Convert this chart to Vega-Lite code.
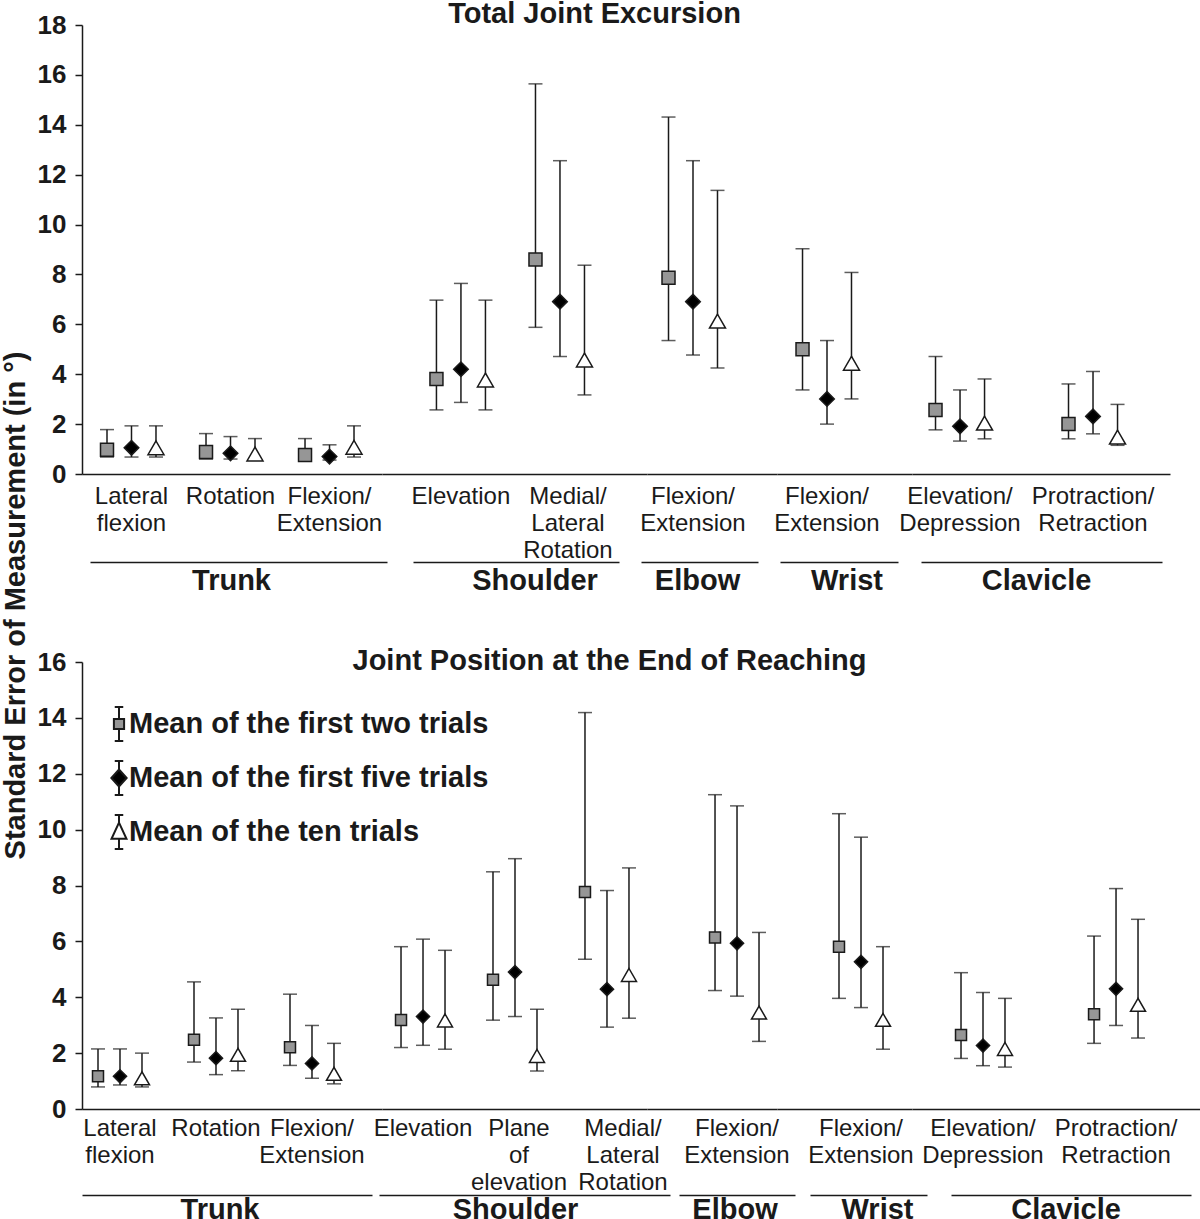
{
"$schema": "https://vega.github.io/schema/vega-lite/v6.json",
"padding": 0,
"background": "white",
"data": {"name": "sem"},
"datasets": {"sem": [
{"p":"top","g":"Trunk","c":"Lateral flexion","t":"Mean of the first two trials","m":0.97,"lo":0.68,"hi":1.78},
{"p":"top","g":"Trunk","c":"Lateral flexion","t":"Mean of the first five trials","m":1.05,"lo":0.68,"hi":1.93},
{"p":"top","g":"Trunk","c":"Lateral flexion","t":"Mean of the ten trials","m":1.05,"lo":0.68,"hi":1.93},
{"p":"top","g":"Trunk","c":"Rotation","t":"Mean of the first two trials","m":0.88,"lo":0.6,"hi":1.62},
{"p":"top","g":"Trunk","c":"Rotation","t":"Mean of the first five trials","m":0.83,"lo":0.6,"hi":1.5},
{"p":"top","g":"Trunk","c":"Rotation","t":"Mean of the ten trials","m":0.8,"lo":0.57,"hi":1.42},
{"p":"top","g":"Trunk","c":"Flexion/Extension","t":"Mean of the first two trials","m":0.76,"lo":0.56,"hi":1.42},
{"p":"top","g":"Trunk","c":"Flexion/Extension","t":"Mean of the first five trials","m":0.7,"lo":0.56,"hi":1.17},
{"p":"top","g":"Trunk","c":"Flexion/Extension","t":"Mean of the ten trials","m":1.07,"lo":0.68,"hi":1.93},
{"p":"top","g":"Shoulder","c":"Elevation","t":"Mean of the first two trials","m":3.81,"lo":2.57,"hi":6.97},
{"p":"top","g":"Shoulder","c":"Elevation","t":"Mean of the first five trials","m":4.2,"lo":2.87,"hi":7.64},
{"p":"top","g":"Shoulder","c":"Elevation","t":"Mean of the ten trials","m":3.77,"lo":2.57,"hi":6.97},
{"p":"top","g":"Shoulder","c":"Medial/Lateral Rotation","t":"Mean of the first two trials","m":8.6,"lo":5.88,"hi":15.64},
{"p":"top","g":"Shoulder","c":"Medial/Lateral Rotation","t":"Mean of the first five trials","m":6.91,"lo":4.71,"hi":12.56},
{"p":"top","g":"Shoulder","c":"Medial/Lateral Rotation","t":"Mean of the ten trials","m":4.57,"lo":3.17,"hi":8.37},
{"p":"top","g":"Elbow","c":"Flexion/Extension","t":"Mean of the first two trials","m":7.87,"lo":5.35,"hi":14.31},
{"p":"top","g":"Elbow","c":"Flexion/Extension","t":"Mean of the first five trials","m":6.91,"lo":4.77,"hi":12.56},
{"p":"top","g":"Elbow","c":"Flexion/Extension","t":"Mean of the ten trials","m":6.13,"lo":4.25,"hi":11.37},
{"p":"top","g":"Wrist","c":"Flexion/Extension","t":"Mean of the first two trials","m":5.0,"lo":3.37,"hi":9.03},
{"p":"top","g":"Wrist","c":"Flexion/Extension","t":"Mean of the first five trials","m":3.01,"lo":2.0,"hi":5.35},
{"p":"top","g":"Wrist","c":"Flexion/Extension","t":"Mean of the ten trials","m":4.44,"lo":3.01,"hi":8.08},
{"p":"top","g":"Clavicle","c":"Elevation/Depression","t":"Mean of the first two trials","m":2.57,"lo":1.77,"hi":4.71},
{"p":"top","g":"Clavicle","c":"Elevation/Depression","t":"Mean of the first five trials","m":1.91,"lo":1.32,"hi":3.37},
{"p":"top","g":"Clavicle","c":"Elevation/Depression","t":"Mean of the ten trials","m":2.04,"lo":1.41,"hi":3.81},
{"p":"top","g":"Clavicle","c":"Protraction/Retraction","t":"Mean of the first two trials","m":2.0,"lo":1.41,"hi":3.61},
{"p":"top","g":"Clavicle","c":"Protraction/Retraction","t":"Mean of the first five trials","m":2.31,"lo":1.61,"hi":4.11},
{"p":"top","g":"Clavicle","c":"Protraction/Retraction","t":"Mean of the ten trials","m":1.48,"lo":1.15,"hi":2.79},
{"p":"bottom","g":"Trunk","c":"Lateral flexion","t":"Mean of the first two trials","m":1.17,"lo":0.79,"hi":2.15},
{"p":"bottom","g":"Trunk","c":"Lateral flexion","t":"Mean of the first five trials","m":1.17,"lo":0.86,"hi":2.15},
{"p":"bottom","g":"Trunk","c":"Lateral flexion","t":"Mean of the ten trials","m":1.1,"lo":0.79,"hi":2.0},
{"p":"bottom","g":"Trunk","c":"Rotation","t":"Mean of the first two trials","m":2.48,"lo":1.68,"hi":4.55},
{"p":"bottom","g":"Trunk","c":"Rotation","t":"Mean of the first five trials","m":1.82,"lo":1.23,"hi":3.26},
{"p":"bottom","g":"Trunk","c":"Rotation","t":"Mean of the ten trials","m":1.94,"lo":1.37,"hi":3.57},
{"p":"bottom","g":"Trunk","c":"Flexion/Extension","t":"Mean of the first two trials","m":2.21,"lo":1.56,"hi":4.11},
{"p":"bottom","g":"Trunk","c":"Flexion/Extension","t":"Mean of the first five trials","m":1.63,"lo":1.1,"hi":2.99},
{"p":"bottom","g":"Trunk","c":"Flexion/Extension","t":"Mean of the ten trials","m":1.26,"lo":0.9,"hi":2.35},
{"p":"bottom","g":"Shoulder","c":"Elevation","t":"Mean of the first two trials","m":3.19,"lo":2.2,"hi":5.81},
{"p":"bottom","g":"Shoulder","c":"Elevation","t":"Mean of the first five trials","m":3.31,"lo":2.28,"hi":6.08},
{"p":"bottom","g":"Shoulder","c":"Elevation","t":"Mean of the ten trials","m":3.17,"lo":2.14,"hi":5.68},
{"p":"bottom","g":"Shoulder","c":"Plane of elevation","t":"Mean of the first two trials","m":4.63,"lo":3.18,"hi":8.49},
{"p":"bottom","g":"Shoulder","c":"Plane of elevation","t":"Mean of the first five trials","m":4.9,"lo":3.31,"hi":8.96},
{"p":"bottom","g":"Shoulder","c":"Plane of elevation","t":"Mean of the ten trials","m":1.9,"lo":1.36,"hi":3.57},
{"p":"bottom","g":"Shoulder","c":"Medial/Lateral Rotation","t":"Mean of the first two trials","m":7.77,"lo":5.36,"hi":14.19},
{"p":"bottom","g":"Shoulder","c":"Medial/Lateral Rotation","t":"Mean of the first five trials","m":4.29,"lo":2.93,"hi":7.82},
{"p":"bottom","g":"Shoulder","c":"Medial/Lateral Rotation","t":"Mean of the ten trials","m":4.8,"lo":3.25,"hi":8.63},
{"p":"bottom","g":"Elbow","c":"Flexion/Extension","t":"Mean of the first two trials","m":6.14,"lo":4.24,"hi":11.25},
{"p":"bottom","g":"Elbow","c":"Flexion/Extension","t":"Mean of the first five trials","m":5.93,"lo":4.04,"hi":10.85},
{"p":"bottom","g":"Elbow","c":"Flexion/Extension","t":"Mean of the ten trials","m":3.45,"lo":2.42,"hi":6.32},
{"p":"bottom","g":"Wrist","c":"Flexion/Extension","t":"Mean of the first two trials","m":5.81,"lo":3.96,"hi":10.57},
{"p":"bottom","g":"Wrist","c":"Flexion/Extension","t":"Mean of the first five trials","m":5.27,"lo":3.63,"hi":9.73},
{"p":"bottom","g":"Wrist","c":"Flexion/Extension","t":"Mean of the ten trials","m":3.19,"lo":2.14,"hi":5.81},
{"p":"bottom","g":"Clavicle","c":"Elevation/Depression","t":"Mean of the first two trials","m":2.65,"lo":1.81,"hi":4.88},
{"p":"bottom","g":"Clavicle","c":"Elevation/Depression","t":"Mean of the first five trials","m":2.27,"lo":1.55,"hi":4.17},
{"p":"bottom","g":"Clavicle","c":"Elevation/Depression","t":"Mean of the ten trials","m":2.15,"lo":1.5,"hi":3.96},
{"p":"bottom","g":"Clavicle","c":"Protraction/Retraction","t":"Mean of the first two trials","m":3.39,"lo":2.35,"hi":6.19},
{"p":"bottom","g":"Clavicle","c":"Protraction/Retraction","t":"Mean of the first five trials","m":4.3,"lo":2.99,"hi":7.89},
{"p":"bottom","g":"Clavicle","c":"Protraction/Retraction","t":"Mean of the ten trials","m":3.73,"lo":2.54,"hi":6.79}
]},
"columns": 5,
"bounds": "flush",
"align": "each",
"spacing": {"row": 188, "column": 0},
"resolve": {"scale": {"xOffset": "independent", "shape": "independent", "fill": "independent", "size": "independent"}, "legend": {"shape": "independent", "fill": "independent", "size": "independent"}},
"concat": [
  {"width": 300, "height": 449,
   "transform": [{"filter": "datum.p === 'top' && datum.g === 'Trunk'"}],
   "layer": [
    {"encoding": {
      "x": {"field": "c", "type": "nominal", "sort": null, "title": null, "scale": {"paddingInner": 0.192, "paddingOuter": 0.111, "align": 0.432}, "axis": {"orient": "bottom", "labelExpr": "split(replace(datum.value,'/','/ '),' ')"}},
      "xOffset": {"field": "t", "type": "nominal", "sort": ["Mean of the first two trials","Mean of the first five trials","Mean of the ten trials"], "scale": {"paddingInner": 0, "paddingOuter": 0.133}}},
     "layer": [
      {"mark": {"type": "rule", "color": "#1a1a1a", "strokeWidth": 1.5}, "encoding": {"y": {"field": "lo", "type": "quantitative", "scale": {"domain": [0, 18], "nice": false}, "axis": {"values": [0,2,4,6,8,10,12,14,16,18], "title": null}}, "y2": {"field": "hi"}}},
      {"mark": {"type": "tick", "color": "#1a1a1a", "thickness": 1.5, "size": 14}, "encoding": {"y": {"field": "lo", "type": "quantitative", "scale": {"domain": [0, 18], "nice": false}, "axis": {"values": [0,2,4,6,8,10,12,14,16,18], "title": null}}}},
      {"mark": {"type": "tick", "color": "#1a1a1a", "thickness": 1.5, "size": 14}, "encoding": {"y": {"field": "hi", "type": "quantitative", "scale": {"domain": [0, 18], "nice": false}, "axis": {"values": [0,2,4,6,8,10,12,14,16,18], "title": null}}}},
      {"mark": {"type": "point", "filled": true, "stroke": "#1a1a1a", "strokeWidth": 1.5, "opacity": 1}, "encoding": {"y": {"field": "m", "type": "quantitative", "scale": {"domain": [0, 18], "nice": false}, "axis": {"values": [0,2,4,6,8,10,12,14,16,18], "title": null}},
        "shape": {"field": "t", "type": "nominal", "scale": {"domain": ["Mean of the first two trials","Mean of the first five trials","Mean of the ten trials"], "range": ["square","diamond","triangle-up"]}, "legend": null},
        "fill": {"field": "t", "type": "nominal", "scale": {"domain": ["Mean of the first two trials","Mean of the first five trials","Mean of the ten trials"], "range": ["#969696","#000000","#ffffff"]}, "legend": null},
        "size": {"field": "t", "type": "ordinal", "scale": {"domain": ["Mean of the first two trials","Mean of the first five trials","Mean of the ten trials"], "range": [169,256,210]}, "legend": null}}}
     ]},
    {"mark": {"type": "point", "opacity": 0}, "encoding": {"x": {"field": "g", "type": "nominal", "title": null, "scale": {"type": "band", "range": [8, 305], "paddingInner": 0, "paddingOuter": 0}, "axis": {"orient": "bottom", "offset": 88, "labelFontSize": 29, "labelFontWeight": "bold", "labelPadding": 4, "labelOffset": -7}}}}
   ],
   "resolve": {"scale": {"x": "independent"}}
  },
  {"width": 265, "height": 449,
   "title": {"text": "Total Joint Excursion", "anchor": "middle", "frame": "group", "offset": -27, "baseline": "alphabetic", "dx": 80},
   "transform": [{"filter": "datum.p === 'top' && datum.g === 'Shoulder'"}],
   "layer": [
    {"encoding": {
      "x": {"field": "c", "type": "nominal", "sort": null, "title": null, "scale": {"paddingInner": 0.192, "paddingOuter": 0.434, "align": 0.453}, "axis": {"orient": "bottom", "labelExpr": "split(replace(datum.value,'/','/ '),' ')", "labelOffset": {"condition": {"test": "datum.value === 'Medial/Lateral Rotation'", "value": 8}, "value": 0}}},
      "xOffset": {"field": "t", "type": "nominal", "sort": ["Mean of the first two trials","Mean of the first five trials","Mean of the ten trials"], "scale": {"paddingInner": 0, "paddingOuter": 0.133}}},
     "layer": [
      {"mark": {"type": "rule", "color": "#1a1a1a", "strokeWidth": 1.5}, "encoding": {"y": {"field": "lo", "type": "quantitative", "scale": {"domain": [0, 18], "nice": false}, "axis": null}, "y2": {"field": "hi"}}},
      {"mark": {"type": "tick", "color": "#1a1a1a", "thickness": 1.5, "size": 14}, "encoding": {"y": {"field": "lo", "type": "quantitative", "scale": {"domain": [0, 18], "nice": false}, "axis": null}}},
      {"mark": {"type": "tick", "color": "#1a1a1a", "thickness": 1.5, "size": 14}, "encoding": {"y": {"field": "hi", "type": "quantitative", "scale": {"domain": [0, 18], "nice": false}, "axis": null}}},
      {"mark": {"type": "point", "filled": true, "stroke": "#1a1a1a", "strokeWidth": 1.5, "opacity": 1}, "encoding": {"y": {"field": "m", "type": "quantitative", "scale": {"domain": [0, 18], "nice": false}, "axis": null},
        "shape": {"field": "t", "type": "nominal", "scale": {"domain": ["Mean of the first two trials","Mean of the first five trials","Mean of the ten trials"], "range": ["square","diamond","triangle-up"]}, "legend": null},
        "fill": {"field": "t", "type": "nominal", "scale": {"domain": ["Mean of the first two trials","Mean of the first five trials","Mean of the ten trials"], "range": ["#969696","#000000","#ffffff"]}, "legend": null},
        "size": {"field": "t", "type": "ordinal", "scale": {"domain": ["Mean of the first two trials","Mean of the first five trials","Mean of the ten trials"], "range": [169,256,210]}, "legend": null}}}
     ]},
    {"mark": {"type": "point", "opacity": 0}, "encoding": {"x": {"field": "g", "type": "nominal", "title": null, "scale": {"type": "band", "range": [31, 237], "paddingInner": 0, "paddingOuter": 0}, "axis": {"orient": "bottom", "offset": 88, "labelFontSize": 29, "labelFontWeight": "bold", "labelPadding": 4, "labelOffset": 19}}}}
   ],
   "resolve": {"scale": {"x": "independent"}}
  },
  {"width": 130, "height": 449,
   "transform": [{"filter": "datum.p === 'top' && datum.g === 'Elbow'"}],
   "layer": [
    {"encoding": {
      "x": {"field": "c", "type": "nominal", "sort": null, "title": null, "scale": {"paddingInner": 0, "paddingOuter": 0.3125, "align": 0.12}, "axis": {"orient": "bottom", "labelExpr": "split(replace(datum.value,'/','/ '),' ')"}},
      "xOffset": {"field": "t", "type": "nominal", "sort": ["Mean of the first two trials","Mean of the first five trials","Mean of the ten trials"], "scale": {"paddingInner": 0, "paddingOuter": 0.133}}},
     "layer": [
      {"mark": {"type": "rule", "color": "#1a1a1a", "strokeWidth": 1.5}, "encoding": {"y": {"field": "lo", "type": "quantitative", "scale": {"domain": [0, 18], "nice": false}, "axis": null}, "y2": {"field": "hi"}}},
      {"mark": {"type": "tick", "color": "#1a1a1a", "thickness": 1.5, "size": 14}, "encoding": {"y": {"field": "lo", "type": "quantitative", "scale": {"domain": [0, 18], "nice": false}, "axis": null}}},
      {"mark": {"type": "tick", "color": "#1a1a1a", "thickness": 1.5, "size": 14}, "encoding": {"y": {"field": "hi", "type": "quantitative", "scale": {"domain": [0, 18], "nice": false}, "axis": null}}},
      {"mark": {"type": "point", "filled": true, "stroke": "#1a1a1a", "strokeWidth": 1.5, "opacity": 1}, "encoding": {"y": {"field": "m", "type": "quantitative", "scale": {"domain": [0, 18], "nice": false}, "axis": null},
        "shape": {"field": "t", "type": "nominal", "scale": {"domain": ["Mean of the first two trials","Mean of the first five trials","Mean of the ten trials"], "range": ["square","diamond","triangle-up"]}, "legend": null},
        "fill": {"field": "t", "type": "nominal", "scale": {"domain": ["Mean of the first two trials","Mean of the first five trials","Mean of the ten trials"], "range": ["#969696","#000000","#ffffff"]}, "legend": null},
        "size": {"field": "t", "type": "ordinal", "scale": {"domain": ["Mean of the first two trials","Mean of the first five trials","Mean of the ten trials"], "range": [169,256,210]}, "legend": null}}}
     ]},
    {"mark": {"type": "point", "opacity": 0}, "encoding": {"x": {"field": "g", "type": "nominal", "title": null, "scale": {"type": "band", "range": [-6, 111], "paddingInner": 0, "paddingOuter": 0}, "axis": {"orient": "bottom", "offset": 88, "labelFontSize": 29, "labelFontWeight": "bold", "labelPadding": 4, "labelOffset": -2}}}}
   ],
   "resolve": {"scale": {"x": "independent"}}
  },
  {"width": 135, "height": 449,
   "transform": [{"filter": "datum.p === 'top' && datum.g === 'Wrist'"}],
   "layer": [
    {"encoding": {
      "x": {"field": "c", "type": "nominal", "sort": null, "title": null, "scale": {"paddingInner": 0, "paddingOuter": 0.344, "align": 0.182}, "axis": {"orient": "bottom", "labelExpr": "split(replace(datum.value,'/','/ '),' ')"}},
      "xOffset": {"field": "t", "type": "nominal", "sort": ["Mean of the first two trials","Mean of the first five trials","Mean of the ten trials"], "scale": {"paddingInner": 0, "paddingOuter": 0.133}}},
     "layer": [
      {"mark": {"type": "rule", "color": "#1a1a1a", "strokeWidth": 1.5}, "encoding": {"y": {"field": "lo", "type": "quantitative", "scale": {"domain": [0, 18], "nice": false}, "axis": null}, "y2": {"field": "hi"}}},
      {"mark": {"type": "tick", "color": "#1a1a1a", "thickness": 1.5, "size": 14}, "encoding": {"y": {"field": "lo", "type": "quantitative", "scale": {"domain": [0, 18], "nice": false}, "axis": null}}},
      {"mark": {"type": "tick", "color": "#1a1a1a", "thickness": 1.5, "size": 14}, "encoding": {"y": {"field": "hi", "type": "quantitative", "scale": {"domain": [0, 18], "nice": false}, "axis": null}}},
      {"mark": {"type": "point", "filled": true, "stroke": "#1a1a1a", "strokeWidth": 1.5, "opacity": 1}, "encoding": {"y": {"field": "m", "type": "quantitative", "scale": {"domain": [0, 18], "nice": false}, "axis": null},
        "shape": {"field": "t", "type": "nominal", "scale": {"domain": ["Mean of the first two trials","Mean of the first five trials","Mean of the ten trials"], "range": ["square","diamond","triangle-up"]}, "legend": null},
        "fill": {"field": "t", "type": "nominal", "scale": {"domain": ["Mean of the first two trials","Mean of the first five trials","Mean of the ten trials"], "range": ["#969696","#000000","#ffffff"]}, "legend": null},
        "size": {"field": "t", "type": "ordinal", "scale": {"domain": ["Mean of the first two trials","Mean of the first five trials","Mean of the ten trials"], "range": [169,256,210]}, "legend": null}}}
     ]},
    {"mark": {"type": "point", "opacity": 0}, "encoding": {"x": {"field": "g", "type": "nominal", "title": null, "scale": {"type": "band", "range": [3, 121], "paddingInner": 0, "paddingOuter": 0}, "axis": {"orient": "bottom", "offset": 88, "labelFontSize": 29, "labelFontWeight": "bold", "labelPadding": 4, "labelOffset": 8}}}}
   ],
   "resolve": {"scale": {"x": "independent"}}
  },
  {"width": 290, "height": 449,
   "transform": [{"filter": "datum.p === 'top' && datum.g === 'Clavicle'"}],
   "layer": [
    {"encoding": {
      "x": {"field": "c", "type": "nominal", "sort": null, "title": null, "scale": {"range": [0, 258], "paddingInner": 0.398, "paddingOuter": 0.169, "align": 0.178}, "axis": {"orient": "bottom", "labelExpr": "split(replace(datum.value,'/','/ '),' ')"}},
      "xOffset": {"field": "t", "type": "nominal", "sort": ["Mean of the first two trials","Mean of the first five trials","Mean of the ten trials"], "scale": {"paddingInner": 0, "paddingOuter": 0.133}}},
     "layer": [
      {"mark": {"type": "rule", "color": "#1a1a1a", "strokeWidth": 1.5}, "encoding": {"y": {"field": "lo", "type": "quantitative", "scale": {"domain": [0, 18], "nice": false}, "axis": null}, "y2": {"field": "hi"}}},
      {"mark": {"type": "tick", "color": "#1a1a1a", "thickness": 1.5, "size": 14}, "encoding": {"y": {"field": "lo", "type": "quantitative", "scale": {"domain": [0, 18], "nice": false}, "axis": null}}},
      {"mark": {"type": "tick", "color": "#1a1a1a", "thickness": 1.5, "size": 14}, "encoding": {"y": {"field": "hi", "type": "quantitative", "scale": {"domain": [0, 18], "nice": false}, "axis": null}}},
      {"mark": {"type": "point", "filled": true, "stroke": "#1a1a1a", "strokeWidth": 1.5, "opacity": 1}, "encoding": {"y": {"field": "m", "type": "quantitative", "scale": {"domain": [0, 18], "nice": false}, "axis": null},
        "shape": {"field": "t", "type": "nominal", "scale": {"domain": ["Mean of the first two trials","Mean of the first five trials","Mean of the ten trials"], "range": ["square","diamond","triangle-up"]}, "legend": null},
        "fill": {"field": "t", "type": "nominal", "scale": {"domain": ["Mean of the first two trials","Mean of the first five trials","Mean of the ten trials"], "range": ["#969696","#000000","#ffffff"]}, "legend": null},
        "size": {"field": "t", "type": "ordinal", "scale": {"domain": ["Mean of the first two trials","Mean of the first five trials","Mean of the ten trials"], "range": [169,256,210]}, "legend": null}}}
     ]},
    {"mark": {"type": "point", "opacity": 0}, "encoding": {"x": {"field": "g", "type": "nominal", "title": null, "scale": {"type": "band", "range": [9, 250], "paddingInner": 0, "paddingOuter": 0}, "axis": {"orient": "bottom", "offset": 88, "labelFontSize": 29, "labelFontWeight": "bold", "labelPadding": 4, "labelOffset": -5}}}}
   ],
   "resolve": {"scale": {"x": "independent"}}
  },
  {"width": 300, "height": 447,
   "transform": [{"filter": "datum.p === 'bottom' && datum.g === 'Trunk'"}],
   "layer": [
    {"encoding": {
      "x": {"field": "c", "type": "nominal", "sort": null, "title": null, "scale": {"paddingInner": 0.271, "paddingOuter": 0.198, "align": 0.079}, "axis": {"orient": "bottom", "labelPadding": 7, "labelExpr": "split(replace(datum.value,'/','/ '),' ')"}},
      "xOffset": {"field": "t", "type": "nominal", "sort": ["Mean of the first two trials","Mean of the first five trials","Mean of the ten trials"], "scale": {"paddingInner": 0, "paddingOuter": 0.091}}},
     "layer": [
      {"mark": {"type": "rule", "color": "#1a1a1a", "strokeWidth": 1.5}, "encoding": {"y": {"field": "lo", "type": "quantitative", "scale": {"domain": [0, 16], "nice": false}, "axis": {"values": [0,2,4,6,8,10,12,14,16], "title": "Standard Error of Measurement (in °)", "titleFontSize": 29, "titleFontWeight": "bold", "titleX": -52, "titleY": -57, "titleAngle": 270, "titleBaseline": "bottom", "titleAlign": "center"}}, "y2": {"field": "hi"}}},
      {"mark": {"type": "tick", "color": "#1a1a1a", "thickness": 1.5, "size": 14}, "encoding": {"y": {"field": "lo", "type": "quantitative", "scale": {"domain": [0, 16], "nice": false}, "axis": {"values": [0,2,4,6,8,10,12,14,16], "title": "Standard Error of Measurement (in °)", "titleFontSize": 29, "titleFontWeight": "bold", "titleX": -52, "titleY": -57, "titleAngle": 270, "titleBaseline": "bottom", "titleAlign": "center"}}}},
      {"mark": {"type": "tick", "color": "#1a1a1a", "thickness": 1.5, "size": 14}, "encoding": {"y": {"field": "hi", "type": "quantitative", "scale": {"domain": [0, 16], "nice": false}, "axis": {"values": [0,2,4,6,8,10,12,14,16], "title": "Standard Error of Measurement (in °)", "titleFontSize": 29, "titleFontWeight": "bold", "titleX": -52, "titleY": -57, "titleAngle": 270, "titleBaseline": "bottom", "titleAlign": "center"}}}},
      {"mark": {"type": "point", "filled": true, "stroke": "#1a1a1a", "strokeWidth": 1.5, "opacity": 1}, "encoding": {"y": {"field": "m", "type": "quantitative", "scale": {"domain": [0, 16], "nice": false}, "axis": {"values": [0,2,4,6,8,10,12,14,16], "title": "Standard Error of Measurement (in °)", "titleFontSize": 29, "titleFontWeight": "bold", "titleX": -52, "titleY": -57, "titleAngle": 270, "titleBaseline": "bottom", "titleAlign": "center"}},
        "shape": {"field": "t", "type": "nominal", "scale": {"domain": ["Mean of the first two trials","Mean of the first five trials","Mean of the ten trials"], "range": ["square","diamond","triangle-up"]}, "legend": null},
        "fill": {"field": "t", "type": "nominal", "scale": {"domain": ["Mean of the first two trials","Mean of the first five trials","Mean of the ten trials"], "range": ["#969696","#000000","#ffffff"]}, "legend": null},
        "size": {"field": "t", "type": "ordinal", "scale": {"domain": ["Mean of the first two trials","Mean of the first five trials","Mean of the ten trials"], "range": [121,225,196]}, "legend": null}}}
     ]},
    {"mark": {"type": "point", "opacity": 0}, "encoding": {"x": {"field": "g", "type": "nominal", "title": null, "scale": {"type": "band", "range": [0, 290], "paddingInner": 0, "paddingOuter": 0}, "axis": {"orient": "bottom", "offset": 86, "labelFontSize": 29, "labelFontWeight": "bold", "labelPadding": 0, "labelOffset": -7}}}},
    {"transform": [{"filter": "false"}],
     "mark": {"type": "point", "filled": true, "stroke": "#1a1a1a", "strokeWidth": 2, "opacity": 1},
     "encoding": {
      "shape": {"field": "t", "type": "nominal", "scale": {"domain": ["Mean of the first two trials","Mean of the first five trials","Mean of the ten trials"], "range": ["M-0.25,-1L0.25,-1M0,-1L0,-0.3M-0.3,-0.3L0.3,-0.3L0.3,0.3L-0.3,0.3ZM0,0.3L0,1M-0.25,1L0.25,1", "M-0.25,-1L0.25,-1M0,-1L0,-0.5M0,-0.5L0.45,0L0,0.5L-0.45,0ZM0,0.5L0,1M-0.25,1L0.25,1", "M-0.25,-1L0.25,-1M0,-1L0,-0.55M0,-0.55L0.44,0.4L-0.44,0.4ZM0,0.4L0,1M-0.25,1L0.25,1"]},
        "legend": {"title": null, "orient": "none", "legendX": 19, "legendY": 44, "symbolSize": 1156, "symbolStrokeColor": "#1a1a1a", "symbolStrokeWidth": 2, "symbolOpacity": 1, "labelFontSize": 29, "labelFontWeight": "bold", "labelColor": "#1a1a1a", "labelOffset": -8, "rowPadding": 12, "labelLimit": 0, "padding": 0,
          "encoding": {"symbols": {"stroke": {"value": "#1a1a1a"}, "strokeWidth": {"value": 2}}}}},
      "fill": {"field": "t", "type": "nominal", "scale": {"domain": ["Mean of the first two trials","Mean of the first five trials","Mean of the ten trials"], "range": ["#969696","#000000","#ffffff"]},
        "legend": {"title": null, "orient": "none", "legendX": 19, "legendY": 44, "symbolSize": 1156, "symbolStrokeColor": "#1a1a1a", "symbolStrokeWidth": 2, "symbolOpacity": 1, "labelFontSize": 29, "labelFontWeight": "bold", "labelColor": "#1a1a1a", "labelOffset": -8, "rowPadding": 12, "labelLimit": 0, "padding": 0,
          "encoding": {"symbols": {"stroke": {"value": "#1a1a1a"}, "strokeWidth": {"value": 2}}}}}
     }}
   ],
   "resolve": {"scale": {"x": "independent", "shape": "independent", "fill": "independent"}}
  },
  {"width": 265, "height": 447,
   "title": {"text": "Joint Position at the End of Reaching", "anchor": "middle", "frame": "group", "offset": -37, "baseline": "alphabetic", "dx": 95},
   "transform": [{"filter": "datum.p === 'bottom' && datum.g === 'Shoulder'"}],
   "layer": [
    {"encoding": {
      "x": {"field": "c", "type": "nominal", "sort": null, "title": null, "scale": {"paddingInner": 0.239, "paddingOuter": 0.06, "align": 0.545}, "axis": {"orient": "bottom", "labelPadding": 7, "labelExpr": "split(replace(datum.value,'/','/ '),' ')", "labelOffset": {"condition": [{"test": "datum.value === 'Plane of elevation'", "value": 4}, {"test": "datum.value === 'Medial/Lateral Rotation'", "value": 16}], "value": 0}}},
      "xOffset": {"field": "t", "type": "nominal", "sort": ["Mean of the first two trials","Mean of the first five trials","Mean of the ten trials"], "scale": {"paddingInner": 0, "paddingOuter": 0.091}}},
     "layer": [
      {"mark": {"type": "rule", "color": "#1a1a1a", "strokeWidth": 1.5}, "encoding": {"y": {"field": "lo", "type": "quantitative", "scale": {"domain": [0, 16], "nice": false}, "axis": null}, "y2": {"field": "hi"}}},
      {"mark": {"type": "tick", "color": "#1a1a1a", "thickness": 1.5, "size": 14}, "encoding": {"y": {"field": "lo", "type": "quantitative", "scale": {"domain": [0, 16], "nice": false}, "axis": null}}},
      {"mark": {"type": "tick", "color": "#1a1a1a", "thickness": 1.5, "size": 14}, "encoding": {"y": {"field": "hi", "type": "quantitative", "scale": {"domain": [0, 16], "nice": false}, "axis": null}}},
      {"mark": {"type": "point", "filled": true, "stroke": "#1a1a1a", "strokeWidth": 1.5, "opacity": 1}, "encoding": {"y": {"field": "m", "type": "quantitative", "scale": {"domain": [0, 16], "nice": false}, "axis": null},
        "shape": {"field": "t", "type": "nominal", "scale": {"domain": ["Mean of the first two trials","Mean of the first five trials","Mean of the ten trials"], "range": ["square","diamond","triangle-up"]}, "legend": null},
        "fill": {"field": "t", "type": "nominal", "scale": {"domain": ["Mean of the first two trials","Mean of the first five trials","Mean of the ten trials"], "range": ["#969696","#000000","#ffffff"]}, "legend": null},
        "size": {"field": "t", "type": "ordinal", "scale": {"domain": ["Mean of the first two trials","Mean of the first five trials","Mean of the ten trials"], "range": [121,225,196]}, "legend": null}}}
     ]},
    {"mark": {"type": "point", "opacity": 0}, "encoding": {"x": {"field": "g", "type": "nominal", "title": null, "scale": {"type": "band", "range": [-3, 288], "paddingInner": 0, "paddingOuter": 0}, "axis": {"orient": "bottom", "offset": 86, "labelFontSize": 29, "labelFontWeight": "bold", "labelPadding": 0, "labelOffset": -9}}}}
   ],
   "resolve": {"scale": {"x": "independent"}}
  },
  {"width": 130, "height": 447,
   "transform": [{"filter": "datum.p === 'bottom' && datum.g === 'Elbow'"}],
   "layer": [
    {"encoding": {
      "x": {"field": "c", "type": "nominal", "sort": null, "title": null, "scale": {"paddingInner": 0, "paddingOuter": 0.4286, "align": 0.917}, "axis": {"orient": "bottom", "labelPadding": 7, "labelExpr": "split(replace(datum.value,'/','/ '),' ')"}},
      "xOffset": {"field": "t", "type": "nominal", "sort": ["Mean of the first two trials","Mean of the first five trials","Mean of the ten trials"], "scale": {"paddingInner": 0, "paddingOuter": 0.091}}},
     "layer": [
      {"mark": {"type": "rule", "color": "#1a1a1a", "strokeWidth": 1.5}, "encoding": {"y": {"field": "lo", "type": "quantitative", "scale": {"domain": [0, 16], "nice": false}, "axis": null}, "y2": {"field": "hi"}}},
      {"mark": {"type": "tick", "color": "#1a1a1a", "thickness": 1.5, "size": 14}, "encoding": {"y": {"field": "lo", "type": "quantitative", "scale": {"domain": [0, 16], "nice": false}, "axis": null}}},
      {"mark": {"type": "tick", "color": "#1a1a1a", "thickness": 1.5, "size": 14}, "encoding": {"y": {"field": "hi", "type": "quantitative", "scale": {"domain": [0, 16], "nice": false}, "axis": null}}},
      {"mark": {"type": "point", "filled": true, "stroke": "#1a1a1a", "strokeWidth": 1.5, "opacity": 1}, "encoding": {"y": {"field": "m", "type": "quantitative", "scale": {"domain": [0, 16], "nice": false}, "axis": null},
        "shape": {"field": "t", "type": "nominal", "scale": {"domain": ["Mean of the first two trials","Mean of the first five trials","Mean of the ten trials"], "range": ["square","diamond","triangle-up"]}, "legend": null},
        "fill": {"field": "t", "type": "nominal", "scale": {"domain": ["Mean of the first two trials","Mean of the first five trials","Mean of the ten trials"], "range": ["#969696","#000000","#ffffff"]}, "legend": null},
        "size": {"field": "t", "type": "ordinal", "scale": {"domain": ["Mean of the first two trials","Mean of the first five trials","Mean of the ten trials"], "range": [121,225,196]}, "legend": null}}}
     ]},
    {"mark": {"type": "point", "opacity": 0}, "encoding": {"x": {"field": "g", "type": "nominal", "title": null, "scale": {"type": "band", "range": [32, 148], "paddingInner": 0, "paddingOuter": 0}, "axis": {"orient": "bottom", "offset": 86, "labelFontSize": 29, "labelFontWeight": "bold", "labelPadding": 0, "labelOffset": -2}}}}
   ],
   "resolve": {"scale": {"x": "independent"}}
  },
  {"width": 135, "height": 447,
   "transform": [{"filter": "datum.p === 'bottom' && datum.g === 'Wrist'"}],
   "layer": [
    {"encoding": {
      "x": {"field": "c", "type": "nominal", "sort": null, "title": null, "scale": {"paddingInner": 0, "paddingOuter": 0.464, "align": 0.754}, "axis": {"orient": "bottom", "labelPadding": 7, "labelExpr": "split(replace(datum.value,'/','/ '),' ')"}},
      "xOffset": {"field": "t", "type": "nominal", "sort": ["Mean of the first two trials","Mean of the first five trials","Mean of the ten trials"], "scale": {"paddingInner": 0, "paddingOuter": 0.091}}},
     "layer": [
      {"mark": {"type": "rule", "color": "#1a1a1a", "strokeWidth": 1.5}, "encoding": {"y": {"field": "lo", "type": "quantitative", "scale": {"domain": [0, 16], "nice": false}, "axis": null}, "y2": {"field": "hi"}}},
      {"mark": {"type": "tick", "color": "#1a1a1a", "thickness": 1.5, "size": 14}, "encoding": {"y": {"field": "lo", "type": "quantitative", "scale": {"domain": [0, 16], "nice": false}, "axis": null}}},
      {"mark": {"type": "tick", "color": "#1a1a1a", "thickness": 1.5, "size": 14}, "encoding": {"y": {"field": "hi", "type": "quantitative", "scale": {"domain": [0, 16], "nice": false}, "axis": null}}},
      {"mark": {"type": "point", "filled": true, "stroke": "#1a1a1a", "strokeWidth": 1.5, "opacity": 1}, "encoding": {"y": {"field": "m", "type": "quantitative", "scale": {"domain": [0, 16], "nice": false}, "axis": null},
        "shape": {"field": "t", "type": "nominal", "scale": {"domain": ["Mean of the first two trials","Mean of the first five trials","Mean of the ten trials"], "range": ["square","diamond","triangle-up"]}, "legend": null},
        "fill": {"field": "t", "type": "nominal", "scale": {"domain": ["Mean of the first two trials","Mean of the first five trials","Mean of the ten trials"], "range": ["#969696","#000000","#ffffff"]}, "legend": null},
        "size": {"field": "t", "type": "ordinal", "scale": {"domain": ["Mean of the first two trials","Mean of the first five trials","Mean of the ten trials"], "range": [121,225,196]}, "legend": null}}}
     ]},
    {"mark": {"type": "point", "opacity": 0}, "encoding": {"x": {"field": "g", "type": "nominal", "title": null, "scale": {"type": "band", "range": [33, 150], "paddingInner": 0, "paddingOuter": 0}, "axis": {"orient": "bottom", "offset": 86, "labelFontSize": 29, "labelFontWeight": "bold", "labelPadding": 0, "labelOffset": 9}}}}
   ],
   "resolve": {"scale": {"x": "independent"}}
  },
  {"width": 290, "height": 447,
   "transform": [{"filter": "datum.p === 'bottom' && datum.g === 'Clavicle'"}],
   "layer": [
    {"encoding": {
      "x": {"field": "c", "type": "nominal", "sort": null, "title": null, "scale": {"paddingInner": 0.474, "paddingOuter": 0.327, "align": 0.414}, "axis": {"orient": "bottom", "labelPadding": 7, "labelExpr": "split(replace(datum.value,'/','/ '),' ')"}},
      "xOffset": {"field": "t", "type": "nominal", "sort": ["Mean of the first two trials","Mean of the first five trials","Mean of the ten trials"], "scale": {"paddingInner": 0, "paddingOuter": 0.091}}},
     "layer": [
      {"mark": {"type": "rule", "color": "#1a1a1a", "strokeWidth": 1.5}, "encoding": {"y": {"field": "lo", "type": "quantitative", "scale": {"domain": [0, 16], "nice": false}, "axis": null}, "y2": {"field": "hi"}}},
      {"mark": {"type": "tick", "color": "#1a1a1a", "thickness": 1.5, "size": 14}, "encoding": {"y": {"field": "lo", "type": "quantitative", "scale": {"domain": [0, 16], "nice": false}, "axis": null}}},
      {"mark": {"type": "tick", "color": "#1a1a1a", "thickness": 1.5, "size": 14}, "encoding": {"y": {"field": "hi", "type": "quantitative", "scale": {"domain": [0, 16], "nice": false}, "axis": null}}},
      {"mark": {"type": "point", "filled": true, "stroke": "#1a1a1a", "strokeWidth": 1.5, "opacity": 1}, "encoding": {"y": {"field": "m", "type": "quantitative", "scale": {"domain": [0, 16], "nice": false}, "axis": null},
        "shape": {"field": "t", "type": "nominal", "scale": {"domain": ["Mean of the first two trials","Mean of the first five trials","Mean of the ten trials"], "range": ["square","diamond","triangle-up"]}, "legend": null},
        "fill": {"field": "t", "type": "nominal", "scale": {"domain": ["Mean of the first two trials","Mean of the first five trials","Mean of the ten trials"], "range": ["#969696","#000000","#ffffff"]}, "legend": null},
        "size": {"field": "t", "type": "ordinal", "scale": {"domain": ["Mean of the first two trials","Mean of the first five trials","Mean of the ten trials"], "range": [121,225,196]}, "legend": null}}}
     ]},
    {"mark": {"type": "point", "opacity": 0}, "encoding": {"x": {"field": "g", "type": "nominal", "title": null, "scale": {"type": "band", "range": [39, 279], "paddingInner": 0, "paddingOuter": 0}, "axis": {"orient": "bottom", "offset": 86, "labelFontSize": 29, "labelFontWeight": "bold", "labelPadding": 0, "labelOffset": -5}}}}
   ],
   "resolve": {"scale": {"x": "independent"}}
  }
],
"config": {
 "font": "Liberation Sans",
 "view": {"stroke": null},
 "title": {"font": "Liberation Sans", "fontSize": 29, "fontWeight": "bold", "color": "#1a1a1a"},
 "axis": {"grid": false, "domainColor": "#1a1a1a", "tickColor": "#1a1a1a", "labelColor": "#1a1a1a", "titleColor": "#1a1a1a", "domainWidth": 1.5, "tickWidth": 1.5, "labelFont": "Liberation Sans", "titleFont": "Liberation Sans"},
 "axisX": {"labelAngle": 0, "ticks": false, "tickSize": 0, "labelFontSize": 24, "labelLineHeight": 27, "labelLimit": 0, "labelOverlap": false, "labelPadding": 10, "labelBaseline": "top"},
 "axisY": {"labelFontSize": 26, "labelFontWeight": "bold", "tickSize": 7, "labelPadding": 9, "labelOverlap": false},
 "legend": {"labelFont": "Liberation Sans"}
}
}
